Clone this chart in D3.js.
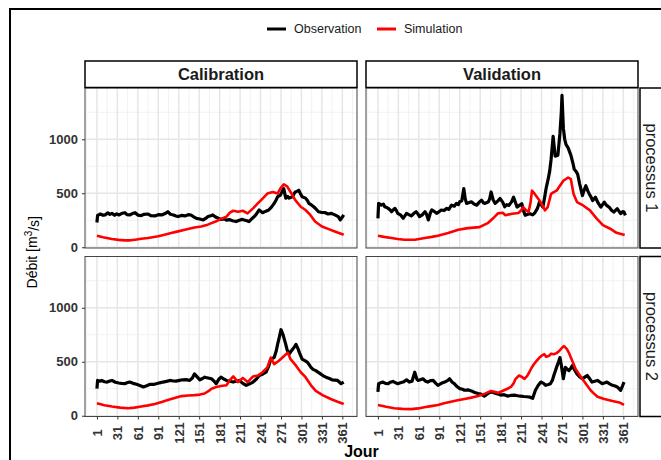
<!DOCTYPE html>
<html>
<head>
<meta charset="utf-8">
<script src="https://cdn.jsdelivr.net/npm/d3@7"></script>
<style>
body { margin: 0; background: #fff; }
svg { display: block; font-family: "Liberation Sans", Arial, sans-serif; }
</style>
</head>
<body>
<script>
// [jour, debit] pairs
const obsCal1 = [[1,229],[2,295],[6,308],[10,296],[13,300],[17,318],[20,305],[23,314],[27,296],[30,310],[33,299],[37,312],[42,320],[45,302],[49,299],[53,312],[57,320],[61,298],[66,293],[70,305],[76,308],[80,292],[86,290],[91,302],[96,299],[101,312],[105,329],[109,305],[113,299],[117,290],[120,284],[125,295],[130,290],[135,302],[139,299],[143,282],[147,268],[152,262],[157,253],[161,270],[164,284],[168,292],[171,299],[175,280],[179,268],[183,258],[188,262],[191,250],[195,256],[200,245],[205,238],[210,250],[214,258],[217,253],[221,246],[224,238],[228,262],[231,280],[234,299],[239,345],[244,320],[248,332],[253,345],[257,372],[261,406],[264,440],[266,467],[270,482],[273,520],[275,543],[278,455],[281,470],[283,455],[288,467],[290,495],[292,512],[295,520],[297,528],[300,490],[302,467],[307,455],[310,430],[312,406],[316,390],[319,375],[323,350],[326,329],[331,322],[336,320],[340,308],[345,314],[350,300],[355,284],[358,253],[361,280],[363,299]];
const simCal1 = [[1,107],[10,93],[23,77],[33,68],[42,64],[50,64],[57,70],[66,78],[76,86],[91,101],[100,115],[110,131],[120,147],[130,162],[144,183],[154,192],[162,205],[169,223],[176,240],[183,262],[191,284],[196,320],[201,338],[208,329],[215,338],[222,314],[230,360],[237,406],[244,451],[251,497],[259,512],[266,497],[270,543],[275,582],[280,564],[285,512],[292,436],[300,375],[307,345],[314,299],[321,238],[331,192],[341,168],[350,146],[357,130],[363,116]];
const obsVal1 = [[1,268],[2,406],[6,390],[9,400],[11,375],[14,368],[16,360],[19,345],[21,329],[24,350],[26,360],[28,340],[30,314],[34,300],[38,268],[41,295],[43,314],[47,300],[50,290],[53,310],[57,329],[60,305],[62,284],[66,300],[70,329],[72,310],[75,253],[78,320],[80,345],[84,330],[87,314],[91,330],[94,345],[98,340],[102,360],[105,350],[109,390],[113,380],[116,406],[119,395],[121,421],[124,430],[127,543],[129,450],[131,406],[135,415],[138,421],[142,400],[146,390],[150,420],[153,436],[156,410],[158,406],[161,415],[163,421],[165,450],[167,512],[170,440],[173,406],[177,430],[180,451],[184,418],[187,375],[190,395],[193,387],[197,420],[200,463],[203,410],[205,372],[209,390],[212,403],[215,330],[217,296],[221,305],[224,311],[228,300],[231,317],[235,360],[238,418],[241,390],[243,372],[246,480],[248,555],[251,640],[253,707],[255,813],[258,1027],[261,844],[265,853],[268,1057],[270,1250],[271,1408],[273,1103],[275,1000],[277,950],[280,920],[284,853],[287,780],[289,722],[292,700],[294,676],[297,585],[301,479],[303,520],[306,570],[309,520],[311,494],[314,460],[316,433],[320,463],[324,410],[328,372],[333,418],[336,390],[340,372],[344,340],[347,326],[352,357],[355,330],[357,311],[360,330],[362,326],[364,296]];
const simVal1 = [[1,107],[10,96],[21,86],[30,77],[40,70],[55,70],[70,86],[80,96],[89,107],[104,131],[119,162],[133,177],[150,186],[162,223],[170,268],[177,314],[184,320],[188,296],[198,311],[207,317],[211,340],[214,372],[218,345],[222,326],[225,420],[227,524],[231,494],[238,433],[243,380],[246,342],[250,372],[255,494],[259,510],[263,524],[268,570],[273,616],[280,646],[284,631],[288,494],[293,418],[302,387],[312,342],[322,265],[331,205],[341,174],[351,134],[363,113]];
const obsCal2 = [[1,251],[2,327],[5,320],[8,327],[12,315],[16,312],[20,322],[23,327],[28,310],[33,303],[37,300],[42,297],[45,305],[49,312],[54,300],[59,291],[64,280],[69,267],[74,278],[79,291],[84,290],[88,297],[93,305],[98,312],[103,318],[108,327],[113,322],[117,321],[122,328],[127,333],[132,335],[137,327],[141,350],[144,388],[148,360],[152,333],[156,345],[159,357],[164,350],[169,342],[173,320],[176,297],[180,340],[183,357],[187,340],[191,327],[196,320],[201,312],[205,320],[210,327],[215,300],[220,282],[225,295],[230,312],[235,340],[239,373],[244,385],[249,403],[253,460],[256,524],[261,539],[264,600],[266,661],[269,740],[271,797],[274,751],[278,661],[280,610],[283,570],[286,600],[288,615],[291,640],[293,661],[296,620],[298,585],[302,524],[306,510],[310,494],[315,448],[318,430],[322,418],[329,388],[333,370],[337,357],[342,345],[346,333],[350,330],[354,327],[357,310],[359,297],[363,312]];
const simCal2 = [[1,115],[12,98],[23,85],[35,75],[47,70],[56,75],[66,85],[76,96],[86,109],[96,127],[105,145],[115,165],[125,182],[135,188],[144,191],[152,196],[159,206],[165,230],[169,251],[176,266],[183,275],[191,282],[196,330],[201,364],[205,335],[208,312],[215,351],[222,312],[230,364],[237,373],[244,403],[251,448],[256,539],[261,478],[268,509],[276,555],[281,585],[285,524],[293,464],[300,403],[307,357],[315,282],[322,230],[332,191],[344,155],[354,130],[363,109]];
const obsVal2 = [[1,221],[2,297],[5,305],[8,312],[12,300],[16,297],[19,310],[23,318],[27,305],[30,297],[34,305],[38,312],[43,333],[47,312],[51,320],[55,403],[58,340],[60,327],[64,335],[67,342],[71,320],[74,312],[78,325],[82,327],[86,300],[89,282],[94,300],[99,312],[103,325],[106,342],[110,310],[113,297],[117,270],[121,251],[125,245],[128,236],[133,240],[138,230],[143,215],[148,206],[152,200],[157,182],[162,205],[167,221],[170,215],[174,206],[178,200],[181,191],[186,195],[191,182],[196,188],[201,191],[206,185],[210,182],[215,178],[220,176],[224,172],[228,161],[232,236],[236,280],[240,312],[244,300],[247,282],[251,290],[254,297],[257,330],[259,373],[261,410],[263,448],[266,500],[268,539],[270,470],[273,343],[276,448],[279,430],[281,418],[284,440],[286,464],[290,420],[293,388],[297,360],[301,342],[305,360],[308,373],[312,340],[315,312],[319,320],[323,327],[327,310],[330,297],[334,305],[337,312],[341,295],[345,282],[349,275],[352,267],[357,236],[360,280],[362,312]];
const simVal2 = [[1,100],[13,83],[25,70],[37,64],[50,61],[60,68],[69,79],[79,89],[89,100],[98,115],[108,130],[118,143],[128,155],[138,168],[148,182],[158,205],[167,230],[172,222],[177,212],[182,225],[186,236],[191,250],[196,267],[200,300],[203,342],[208,373],[212,360],[216,342],[220,370],[223,403],[226,440],[230,479],[234,510],[238,539],[242,560],[245,570],[248,545],[252,555],[255,575],[259,570],[263,580],[267,600],[271,630],[274,645],[278,620],[281,585],[284,540],[286,509],[291,433],[295,395],[299,357],[306,297],[313,236],[318,205],[323,176],[333,155],[345,136],[355,123],[362,100]];

const dayTicks = [1,31,61,91,121,151,181,211,241,271,301,331,361];
const dayMinor = [-14,16,46,76,106,136,166,196,226,256,286,316,346,376];
const debitTicks = [0,500,1000];
const debitMinor = [250,750,1250];
const colLabels = ["Calibration","Validation"];
const rowLabels = ["processus 1","processus 2"];
const seriesNames = ["Observation","Simulation"];
const seriesColors = ["#000000","#ff0000"];

const W = 661, H = 460;
const colX = [85, 366], panelW = 272;
const rowY = [88, 256.5], panelH = 160;

const svg = d3.select("body").append("svg")
    .attr("width", W)
    .attr("height", H);

svg.append("rect").attr("width", W).attr("height", H).attr("fill", "#fff");

// outer frame
svg.append("rect")
    .attr("x", 10).attr("y", 9)
    .attr("width", 680).attr("height", 480)
    .attr("fill", "none")
    .attr("stroke", "#000")
    .attr("stroke-width", 2);

const x = d3.scaleLinear().domain([-16.5, 382.5]).range([0, panelW]);
const y = d3.scaleLinear().domain([-7, 1475]).range([panelH, 0]);

const line = d3.line()
    .x(function(d){ return x(d[0]) })
    .y(function(d){ return y(d[1]) });

// legend
const legendX = [267, 377];
const legend = svg.selectAll(".legend")
    .data(seriesNames)
    .join("g")
    .attr("class", "legend")
    .attr("transform", function(d, i){ return "translate(" + legendX[i] + ",29)" });
legend.append("line")
    .attr("x1", 0).attr("x2", 19)
    .attr("stroke", function(d, i){ return seriesColors[i] })
    .attr("stroke-width", 3);
legend.append("text")
    .attr("x", 27).attr("dy", "0.35em")
    .attr("font-size", "12.5px")
    .attr("fill", "#1a1a1a")
    .text(function(d){ return d });

const panels = [
    {col: 0, row: 0, obs: obsCal1, sim: simCal1},
    {col: 1, row: 0, obs: obsVal1, sim: simVal1},
    {col: 0, row: 1, obs: obsCal2, sim: simCal2},
    {col: 1, row: 1, obs: obsVal2, sim: simVal2}
];

panels.forEach(function(p){
    const g = svg.append("g")
        .attr("transform", "translate(" + colX[p.col] + "," + rowY[p.row] + ")");

    g.append("rect")
        .attr("width", panelW).attr("height", panelH)
        .attr("fill", "#fff");

    // grid, minor then major
    g.selectAll(".vminor").data(dayMinor).join("line")
        .attr("x1", function(d){ return x(d) }).attr("x2", function(d){ return x(d) })
        .attr("y1", 0).attr("y2", panelH)
        .attr("stroke", "#f2f2f2").attr("stroke-width", 1);
    g.selectAll(".hminor").data(debitMinor).join("line")
        .attr("y1", function(d){ return y(d) }).attr("y2", function(d){ return y(d) })
        .attr("x1", 0).attr("x2", panelW)
        .attr("stroke", "#f2f2f2").attr("stroke-width", 1);
    g.selectAll(".vmajor").data(dayTicks).join("line")
        .attr("x1", function(d){ return x(d) }).attr("x2", function(d){ return x(d) })
        .attr("y1", 0).attr("y2", panelH)
        .attr("stroke", "#e6e6e6").attr("stroke-width", 1.5);
    g.selectAll(".hmajor").data(debitTicks).join("line")
        .attr("y1", function(d){ return y(d) }).attr("y2", function(d){ return y(d) })
        .attr("x1", 0).attr("x2", panelW)
        .attr("stroke", "#e6e6e6").attr("stroke-width", 1.5);

    g.append("path").datum(p.obs)
        .attr("d", line)
        .attr("fill", "none")
        .attr("stroke", seriesColors[0])
        .attr("stroke-width", 3.2)
        .attr("stroke-linejoin", "round");
    g.append("path").datum(p.sim)
        .attr("d", line)
        .attr("fill", "none")
        .attr("stroke", seriesColors[1])
        .attr("stroke-width", 2.6)
        .attr("stroke-linejoin", "round");

    g.append("rect")
        .attr("width", panelW).attr("height", panelH)
        .attr("fill", "none")
        .attr("stroke", "#444")
        .attr("stroke-width", 1);

    if (p.row == 1) {
        const ax = g.append("g")
            .attr("transform", "translate(0," + panelH + ")")
            .call(d3.axisBottom(x).tickValues(dayTicks).tickSize(3).tickFormat(d3.format("d")));
        ax.select(".domain").remove();
        ax.selectAll(".tick line").attr("stroke", "#333");
        ax.selectAll("text")
            .attr("transform", "rotate(-90)")
            .attr("x", -16.5).attr("y", 0).attr("dy", "0.35em")
            .attr("text-anchor", "middle")
            .attr("font-size", "13px")
            .attr("font-weight", "bold")
            .attr("font-family", "Liberation Sans, Arial, sans-serif")
            .attr("fill", "#333");
    }
    if (p.col == 0) {
        const ay = g.append("g")
            .call(d3.axisLeft(y).tickValues(debitTicks).tickSize(3).tickPadding(4).tickFormat(d3.format("d")));
        ay.select(".domain").remove();
        ay.selectAll(".tick line").attr("stroke", "#333");
        ay.selectAll("text")
            .attr("font-size", "13px")
            .attr("font-weight", "bold")
            .attr("font-family", "Liberation Sans, Arial, sans-serif")
            .attr("fill", "#333");
    }
});

// top strips
colLabels.forEach(function(lab, i){
    svg.append("rect")
        .attr("x", colX[i]).attr("y", 61)
        .attr("width", panelW).attr("height", 26.5)
        .attr("fill", "#fff")
        .attr("stroke", "#000").attr("stroke-width", 1.5);
    svg.append("text")
        .attr("x", colX[i] + panelW / 2).attr("y", 74.5)
        .attr("dy", "0.35em")
        .attr("text-anchor", "middle")
        .attr("font-size", "16.5px")
        .attr("font-weight", "bold")
        .attr("fill", "#1a1a1a")
        .text(lab);
});

// right strips
rowLabels.forEach(function(lab, i){
    svg.append("rect")
        .attr("x", 640).attr("y", rowY[i])
        .attr("width", 27).attr("height", panelH)
        .attr("fill", "#fff")
        .attr("stroke", "#000").attr("stroke-width", 1.5);
    svg.append("text")
        .attr("transform", "translate(652," + (rowY[i] + panelH / 2) + ") rotate(90)")
        .attr("dy", "0.35em")
        .attr("text-anchor", "middle")
        .attr("font-size", "16.5px")
        .attr("fill", "#1a1a1a")
        .text(lab);
});

// axis titles
const yTitle = svg.append("text")
    .attr("transform", "translate(32," + (rowY[0] + (rowY[1] + panelH - rowY[0]) / 2) + ") rotate(-90)")
    .attr("text-anchor", "middle")
    .attr("dy", "0.35em")
    .attr("font-size", "14px")
    .attr("fill", "#000");
yTitle.append("tspan").text("Débit [m");
yTitle.append("tspan").attr("dy", "-0.45em").attr("font-size", "10px").text("3");
yTitle.append("tspan").attr("dy", "0.45em").text("/s]");

svg.append("text")
    .attr("x", (colX[0] + colX[1] + panelW) / 2).attr("y", 457)
    .attr("text-anchor", "middle")
    .attr("font-size", "16px")
    .attr("font-weight", "bold")
    .attr("fill", "#000")
    .text("Jour");
</script>
</body>
</html>
